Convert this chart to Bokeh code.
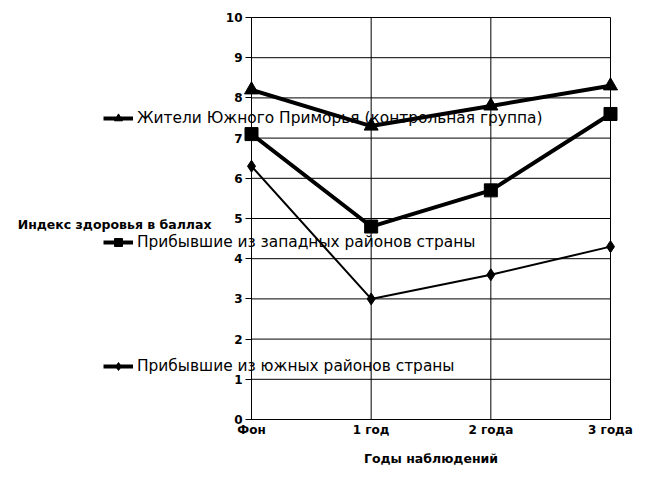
import math
from bokeh.plotting import figure
from bokeh.models import Legend, LegendItem, Range1d, FixedTicker, LinearAxis, Label
from bokeh.embed import file_html
from bokeh.resources import INLINE

categories = ["Фон", "1 год", "2 года", "3 года"]
series_names = ["Жители Южного Приморья (контрольная группа)",
                "Прибывшие из западных районов страны",
                "Прибывшие из южных районов страны"]
local_vals = [8.2, 7.3, 7.8, 8.3]
west_vals = [7.1, 4.8, 5.7, 7.6]
south_vals = [6.3, 3.0, 3.6, 4.3]
y_ticks = list(range(0, 11))
x_title = "Годы наблюдений"
y_title = "Индекс здоровья в баллах"

xs = list(range(len(categories)))
last = len(categories) - 1
y_max = y_ticks[-1]

# The frame covers the whole canvas so that the legend, which overlaps the
# area left of the value axis, is not clipped.  Data area: 251..610 x 17..419 px.
W, H = 646, 484
left_px, right_px, top_px, bottom_px = 251, 610, 17, 419
kx = last / (right_px - left_px)
ky = y_max / (bottom_px - top_px)

p = figure(width=W, height=H, output_backend="svg", toolbar_location=None,
           x_range=Range1d(-left_px * kx, last + (W - right_px) * kx),
           y_range=Range1d(-(H - bottom_px) * ky, y_max + top_px * ky),
           x_axis_location=None, y_axis_location=None, min_border=0)
p.outline_line_color = None
p.background_fill_color = "white"
p.border_fill_color = "white"
p.xgrid.visible = False
p.ygrid.visible = False

font = "DejaVu Sans"

xaxis = LinearAxis(fixed_location=0, bounds=(0, last), ticker=FixedTicker(ticks=xs),
                   major_label_overrides={i: c for i, c in enumerate(categories)})
yaxis = LinearAxis(fixed_location=0, bounds=(0, y_max), ticker=FixedTicker(ticks=y_ticks))
p.add_layout(xaxis, "below")
p.add_layout(yaxis, "left")
for ax in (xaxis, yaxis):
    ax.major_label_text_font = font
    ax.major_label_text_font_style = "bold"
    ax.major_label_text_font_size = "12px"
    ax.major_label_text_color = "black"
    ax.axis_line_color = "black"
    ax.minor_tick_line_color = None
    ax.major_tick_line_color = "black"
xaxis.major_tick_out = 0
xaxis.major_tick_in = 0
xaxis.major_label_standoff = 3
yaxis.major_tick_out = 6
yaxis.major_tick_in = 0
yaxis.major_label_standoff = 3

# axis titles
p.add_layout(Label(x=last / 2, y=0, y_offset=-39, text=x_title, text_align="center",
                   text_baseline="middle", text_font=font, text_font_style="bold",
                   text_font_size="12.5px", text_color="black"))
p.add_layout(Label(x=0, y=y_max / 2, x_offset=-40, y_offset=-6, text=y_title, text_align="right",
                   text_baseline="middle", text_font=font, text_font_style="bold",
                   text_font_size="12.5px", text_color="black"))

# grid lines limited to the data area
p.segment(x0=[0] * len(y_ticks), x1=[last] * len(y_ticks), y0=y_ticks, y1=y_ticks,
          line_color="black", line_width=1)
p.segment(x0=xs, x1=xs, y0=[0] * len(xs), y1=[y_max] * len(xs),
          line_color="black", line_width=1)

l1 = p.line(xs, local_vals, line_color="black", line_width=4)
m1 = p.scatter(xs, local_vals, marker="triangle", size=14, color="black")
l2 = p.line(xs, west_vals, line_color="black", line_width=4)
m2 = p.scatter(xs, west_vals, marker="square", size=13, color="black")
l3 = p.line(xs, south_vals, line_color="black", line_width=2)
m3 = p.scatter(xs, south_vals, marker="diamond", size=12, color="black")
# key-only line for the third series (thicker in the key than in the plot)
k3 = p.line(xs, [math.nan] * len(xs), line_color="black", line_width=4)

legend = Legend(items=[
    LegendItem(label=series_names[0], renderers=[l1, m1]),
    LegendItem(label=series_names[1], renderers=[l2, m2]),
    LegendItem(label=series_names[2], renderers=[k3, m3]),
], location=(103, H - 366 - 10))
legend.background_fill_alpha = 0
legend.border_line_color = None
legend.padding = 0
legend.margin = 0
legend.spacing = 104
legend.glyph_width = 30
legend.glyph_height = 20
legend.label_height = 20
legend.label_standoff = 4
legend.label_text_font = font
legend.label_text_font_size = "15.4px"
legend.label_text_color = "black"
p.add_layout(legend, "center")

open("out.html", "w").write(file_html(p, INLINE))
